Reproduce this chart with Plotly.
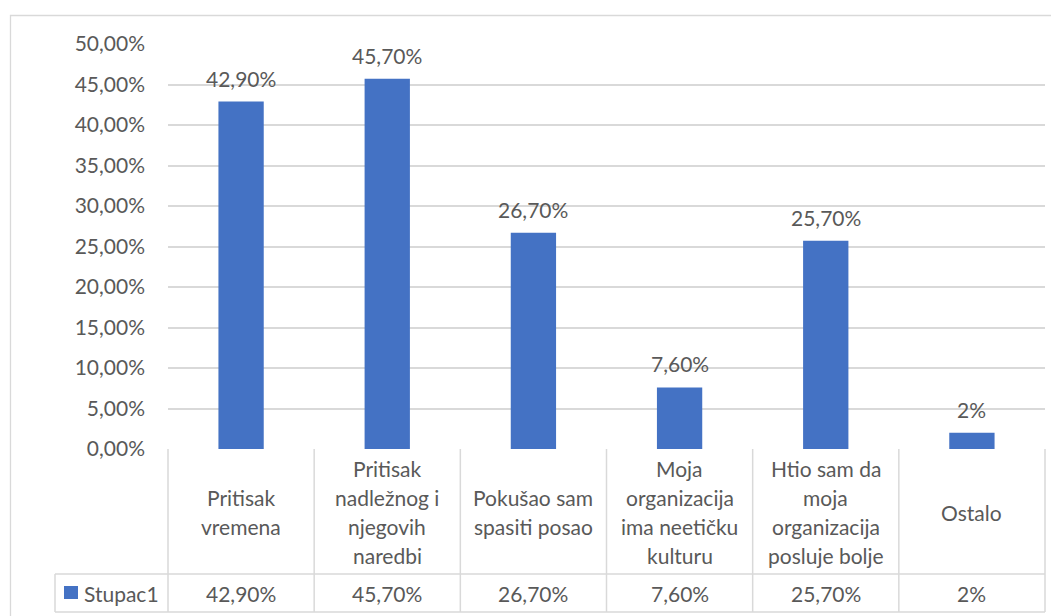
import plotly.graph_objects as go

categories = ["Pritisak<br>vremena", "Pritisak<br>nadležnog i<br>njegovih<br>naredbi",
              "Pokušao sam<br>spasiti posao", "Moja<br>organizacija<br>ima neetičku<br>kulturu",
              "Htio sam da<br>moja<br>organizacija<br>posluje bolje", "Ostalo"]
values = [0.429, 0.457, 0.267, 0.076, 0.257, 0.02]
labels = ["42,90%", "45,70%", "26,70%", "7,60%", "25,70%", "2%"]
series_name = "Stupac1"

W, H = 1059, 616
OFF = 8  # page body margin
def px(x): return (x - OFF) / W
def py(y): return 1 - (y - OFF) / H

FONT = "Lato"
TXT = "#595959"
GRID = "#d9d9d9"
BLUE = "#4472C4"
FS = 21

xs = list(range(len(categories)))

fig = go.Figure()
fig.add_trace(go.Bar(x=xs, y=values, marker_color=BLUE, width=0.31, name=series_name,
                     hoverinfo="skip"))

shapes = []
annotations = []
# outer frame
shapes.append(dict(type="rect", xref="paper", yref="paper", x0=px(10.5), x1=px(1075),
                   y0=py(640), y1=py(15.5), line=dict(color=GRID, width=1.3)))
# table lines
x_left, x_right = 168, 1045
col_w = (x_right - x_left) / len(categories)
y_top, y_mid, y_bot = 449, 574, 612
for y in (y_mid, y_bot):
    shapes.append(dict(type="line", xref="paper", yref="paper", x0=px(55), x1=px(x_right),
                       y0=py(y), y1=py(y), line=dict(color=GRID, width=1.5)))
for i in range(len(categories) + 1):
    xv = x_left + i * col_w
    shapes.append(dict(type="line", xref="paper", yref="paper", x0=px(xv), x1=px(xv),
                       y0=py(y_top), y1=py(y_bot), line=dict(color=GRID, width=1.5)))
shapes.append(dict(type="line", xref="paper", yref="paper", x0=px(55), x1=px(55),
                   y0=py(y_mid), y1=py(y_bot), line=dict(color=GRID, width=1.5)))
# legend key
shapes.append(dict(type="rect", xref="paper", yref="paper", x0=px(64), x1=px(78),
                   y0=py(599), y1=py(586), line=dict(width=0), fillcolor=BLUE))
annotations.append(dict(text=series_name, xref="paper", yref="paper", x=px(82), y=py(593),
                        xanchor="left", yanchor="middle", showarrow=False,
                        font=dict(family=FONT, size=FS, color=TXT)))

line_h = 29
center = (y_top + y_mid) / 2 + 0.5
for i, (cat, lab, v) in enumerate(zip(categories, labels, values)):
    parts = cat.split("<br>")
    n = len(parts)
    for k, p in enumerate(parts):
        yc = center + (k - (n - 1) / 2) * line_h
        annotations.append(dict(text=p, xref="x", yref="paper", x=i, y=py(yc),
                                xanchor="center", yanchor="middle", showarrow=False,
                                font=dict(family=FONT, size=FS, color=TXT)))
    annotations.append(dict(text=lab, xref="x", yref="paper", x=i, y=py(593),
                            xanchor="center", yanchor="middle", showarrow=False,
                            font=dict(family=FONT, size=FS, color=TXT)))
    annotations.append(dict(text=lab, xref="x", yref="y", x=i, y=v,
                            xanchor="center", yanchor="bottom", yshift=9, showarrow=False,
                            font=dict(family=FONT, size=FS, color=TXT)))

fig.update_layout(
    template="none",
    width=W, height=H, autosize=False,
    margin=dict(l=0, r=0, t=0, b=0, pad=0),
    paper_bgcolor="white", plot_bgcolor="white",
    separators=", ",
    showlegend=False,
    shapes=shapes, annotations=annotations,
    font=dict(family=FONT, size=FS, color=TXT),
    xaxis=dict(domain=[px(x_left), px(x_right)], range=[-0.5, len(categories) - 0.5],
               showticklabels=False, showgrid=False, zeroline=False, automargin=False,
               showline=False, fixedrange=True, ticks=""),
    yaxis=dict(domain=[py(449), py(44)], range=[0, 0.5], tickformat=".2%",
               dtick=0.05, showgrid=True, gridcolor=GRID, gridwidth=1.5, zeroline=False,
               ticklabelstandoff=22, tickfont=dict(family=FONT, size=FS, color=TXT),
               showline=False, automargin=False, ticks=""),
)

fig.write_html("out.html")
